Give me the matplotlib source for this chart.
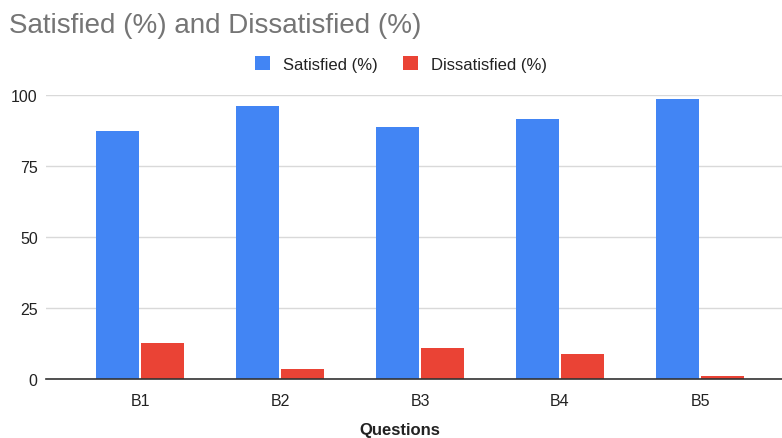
import matplotlib
matplotlib.use("Agg")
import matplotlib.pyplot as plt
import numpy as np
from matplotlib.patches import Patch

plt.rcParams['font.family'] = ['Liberation Sans', 'DejaVu Sans']

categories = ["B1", "B2", "B3", "B4", "B5"]
satisfied = [87.5, 96.0, 88.7, 91.4, 98.6]
dissatisfied = [12.6, 3.6, 10.8, 8.7, 0.9]
y_ticks = [0, 25, 50, 75, 100]

BLUE = "#4285F4"
RED = "#EA4335"

fig = plt.figure(figsize=(7.82, 4.39), dpi=100)
ax = fig.add_axes([46/782, 59/439, 1 - 46/782, (380-96)/439])

x = np.arange(len(categories))
w = 0.307
gap = 0.02
ax.bar(x - (w + gap)/2, satisfied, width=w, color=BLUE, zorder=3)
ax.bar(x + (w + gap)/2, dissatisfied, width=w, color=RED, zorder=3)

ax.set_xlim((46-140)/140, (782-140)/140)
ax.set_ylim(0, 100)
ax.set_yticks(y_ticks)
ax.set_xticks(x)
ax.set_xticklabels(categories)
ax.yaxis.grid(True, color="#d9d9d9", linewidth=1, zorder=0)
ax.set_axisbelow(True)
for s in ["top", "right", "left"]:
    ax.spines[s].set_visible(False)
ax.spines["bottom"].set_color("#333333")
ax.spines["bottom"].set_linewidth(1.2)
ax.spines["bottom"].set_zorder(4)
ax.tick_params(axis="both", length=0, labelsize=11.5, labelcolor="#222222")
ax.tick_params(axis="x", pad=10)
ax.tick_params(axis="y", pad=6)

fig.text(9/782, 1 - 26/439, "Satisfied (%) and Dissatisfied (%)", fontsize=20,
         color="#757575", ha="left", va="center")

handles = [Patch(facecolor=BLUE, label="Satisfied (%)"),
           Patch(facecolor=RED, label="Dissatisfied (%)")]
fig.legend(handles=handles, loc="center", bbox_to_anchor=(401/782, 1 - 65/439),
           ncol=2, frameon=False, fontsize=12, handlelength=0.9, handleheight=0.9,
           handletextpad=0.8, columnspacing=1.5, labelcolor="#222222")

fig.text(400/782, 1 - 431/439, "Questions", fontsize=12, fontweight="bold",
         color="#222222", ha="center", va="center")

fig.savefig("out.png", dpi=100)
